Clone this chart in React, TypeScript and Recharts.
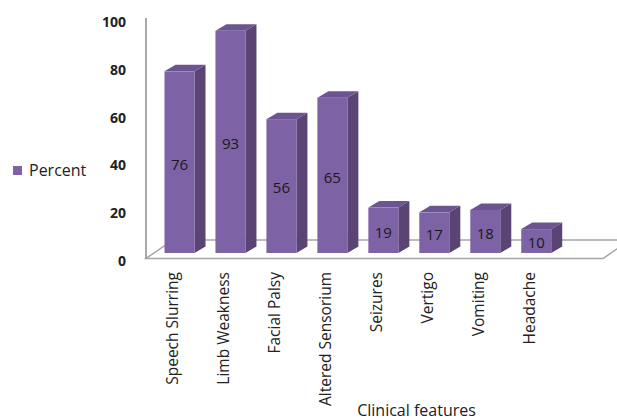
import { BarChart, Bar, XAxis, YAxis, LabelList, Label, ReferenceArea } from 'recharts';

const features = ['Speech Slurring', 'Limb Weakness', 'Facial Palsy', 'Altered Sensorium', 'Seizures', 'Vertigo', 'Vomiting', 'Headache'];
const percent = [76, 93, 56, 65, 19, 17, 18, 10];
const yTicks = [0, 20, 40, 60, 80, 100];

const data = features.map((f, i) => ({ feature: f, percent: percent[i] }));

const FONT = '"Open Sans", "Liberation Sans", sans-serif';
const FRONT = '#7E62A6';
const SIDE = '#594474';
const TOP = '#6B5590';
const DEPTH_X = 11;
const DEPTH_Y = -6.5;
const PAD_LEFT = 8.5;
const PAD_RIGHT = 40.8;

// 3D-looking column: front face, right side and top
function Column(props: any) {
  const { x, y, width, height } = props;
  if (width == null || height == null) return null;
  const r = x + width;
  const b = y + height;
  return (
    <g>
      <polygon points={`${r},${y} ${r + DEPTH_X},${y + DEPTH_Y} ${r + DEPTH_X},${b + DEPTH_Y} ${r},${b}`} fill={SIDE} />
      <polygon points={`${x},${y} ${x + DEPTH_X},${y + DEPTH_Y} ${r + DEPTH_X},${y + DEPTH_Y} ${r},${y}`} fill={TOP} />
      <rect x={x} y={y} width={width} height={height} fill={FRONT} />
    </g>
  );
}

// floor slab and back wall edge; the area spans the category bands, so add the axis padding back
function Floor(props: any) {
  const { x, y, width, height } = props;
  const left = x - PAD_LEFT;
  const right = x + width + PAD_RIGHT;
  const front = y + height + 5.5;
  const back = front - 18.5;
  const dx = 27;
  return (
    <g>
      <polygon
        points={`${left},${front} ${right},${front} ${right + dx},${back} ${left + dx},${back}`}
        fill="#fff"
        stroke="#a6a6a6"
        strokeWidth={1.5}
      />
      <line x1={left} y1={y + 4} x2={left} y2={front} stroke="#8c8c8c" strokeWidth={1.5} />
    </g>
  );
}

function YTick(props: any) {
  const { x, y, payload } = props;
  return (
    <text x={x} y={y + 7.5} textAnchor="end" dominantBaseline="central" fontFamily={FONT} fontSize={14} fontWeight={700} fill="#222">
      {payload.value}
    </text>
  );
}

function XTick(props: any) {
  const { x, y, payload } = props;
  const px = x - 8;
  const py = y + 11;
  return (
    <text
      x={px}
      y={py}
      transform={`rotate(-90 ${px} ${py})`}
      textAnchor="end"
      dominantBaseline="central"
      fontFamily={FONT}
      fontSize={15.5}
      fill="#222"
    >
      {payload.value}
    </text>
  );
}

export default function App() {
  return (
    <div style={{ position: 'absolute', left: 0, top: 0, width: 617, height: 420, background: '#fff' }}>
      <BarChart width={617} height={420} data={data} margin={{ top: 14, right: 14, bottom: 0, left: 0 }}>
        <XAxis
          dataKey="feature"
          height={167}
          padding={{ left: PAD_LEFT, right: PAD_RIGHT }}
          axisLine={false}
          tickLine={false}
          interval={0}
          tick={<XTick />}
        >
          <Label
            value="Clinical features"
            position="insideBottom"
            offset={4}
            dx={42}
            style={{ fontFamily: FONT, fontSize: 16, fill: '#222' }}
          />
        </XAxis>
        <YAxis
          width={146}
          domain={[0, 100]}
          ticks={yTicks}
          axisLine={false}
          tickLine={false}
          tickSize={6}
          tickMargin={14}
          tick={<YTick />}
        />
        <ReferenceArea
          x1={features[0]}
          x2={features[features.length - 1]}
          y1={0}
          y2={100}
          ifOverflow="visible"
          shape={<Floor />}
        />
        <Bar dataKey="percent" barSize={30} shape={<Column />} isAnimationActive={false}>
          <LabelList
            dataKey="percent"
            position="center"
            dy={2}
            style={{ fontFamily: FONT, fontSize: 15, fill: '#1a1a1a' }}
          />
        </Bar>
      </BarChart>
      <div
        style={{
          position: 'absolute',
          left: 13,
          top: 159,
          display: 'flex',
          alignItems: 'center',
          fontFamily: FONT,
          fontSize: 16,
          color: '#222',
        }}
      >
        <span style={{ display: 'inline-block', width: 9, height: 9, background: FRONT, marginRight: 7 }} />
        Percent
      </div>
    </div>
  );
}
